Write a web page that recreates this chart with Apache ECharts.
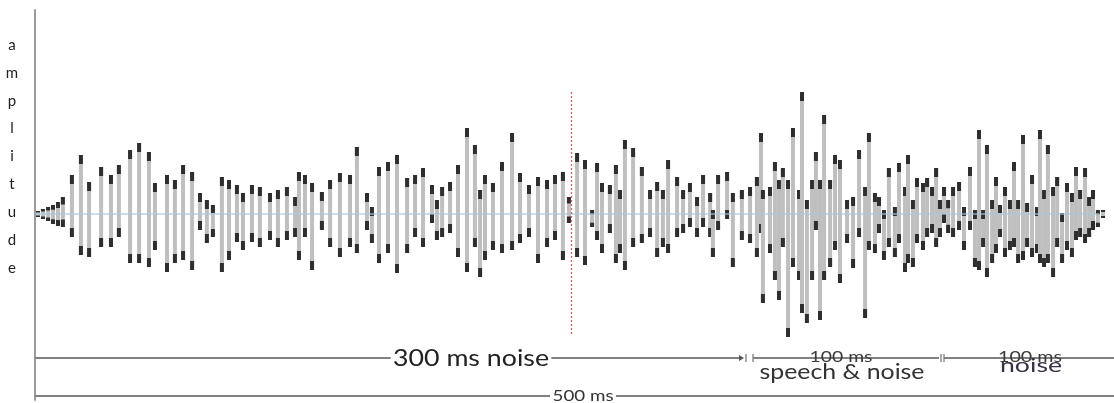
<!DOCTYPE html>
<html><head><meta charset="utf-8">
<script src="https://cdn.jsdelivr.net/npm/echarts@6/dist/echarts.min.js"></script>
<style>html,body{margin:0;padding:0;background:#fff}#c{width:1114px;height:403px}</style>
</head><body><div id="c"></div>
<script>
// sample times (ms) of each oscillation stroke
const times = [1.4,3.7,6.1,8.4,10.7,13.0,17.2,21.4,25.2,30.8,35.4,39.1,44.3,48.5,53.1,55.9,61.5,65.2,69.0,73.2,76.9,80.1,82.9,87.1,90.4,94.1,96.9,101.1,104.8,109.5,113.2,117.4,121.2,123.0,125.8,129.1,133.7,137.5,142.1,146.8,150.0,154.7,157.0,160.3,164.5,168.7,173.4,177.1,180.8,185.0,187.3,189.7,193.4,197.1,201.3,205.0,207.4,209.7,213.4,217.6,222.3,226.0,230.2,234.4,238.6,242.3,246.0,248.8,252.6,256.3,259.6,261.9,264.2,267.9,270.7,272.6,274.9,278.7,282.8,286.6,289.9,292.6,295.0,299.2,302.0,305.2,308.5,311.3,314.6,315.9,318.3,322.5,325.2,329.4,333.2,336.4,338.3,339.2,342.5,344.8,346.7,348.5,350.9,353.2,356.0,357.4,359.7,362.1,363.9,365.8,367.7,370.5,372.8,375.1,378.4,381.2,384.0,386.8,388.6,391.4,393.3,395.6,397.9,400.7,402.6,405.4,406.8,409.1,411.0,413.8,415.7,418.0,419.9,421.7,423.6,425.5,427.8,430.6,432.9,435.7,438.0,439.9,441.8,443.6,446.0,447.8,449.7,452.0,454.3,456.2,458.1,460.4,462.3,464.6,466.9,468.3,470.2,472.0,474.4,476.3,478.6,480.9,483.2,485.1,487.0,489.3,491.2,493.0,495.3,497.7];
// positive peak of each stroke
const highs = [3,5,7,9,12,17,39,59,32,47,39,49,64,71,62,31,39,34,49,42,21,14,9,37,34,29,21,29,27,21,24,27,17,42,39,31,22,34,41,39,67,21,7,47,52,59,36,39,46,29,14,27,32,49,86,69,24,39,31,52,81,41,29,37,34,39,42,17,61,54,4,51,31,29,49,24,74,66,47,24,32,24,54,37,24,31,17,39,21,4,39,42,21,24,27,37,81,24,27,52,34,46,34,86,24,122,14,34,62,34,99,34,59,54,14,17,64,27,81,21,17,4,46,7,51,27,59,14,36,31,36,27,46,14,27,14,27,32,7,47,4,84,4,69,14,37,9,27,14,52,14,79,11,39,7,84,24,69,27,37,1,31,21,47,24,46,17,24,4,4];
// negative peak of each stroke
const lows = [-3,-5,-7,-10,-12,-13,-23,-41,-43,-33,-33,-23,-49,-49,-53,-36,-58,-49,-46,-56,-16,-29,-23,-58,-46,-28,-36,-28,-33,-26,-33,-26,-23,-46,-23,-56,-16,-33,-43,-33,-39,-16,-29,-49,-39,-59,-39,-23,-33,-9,-26,-23,-19,-43,-58,-33,-63,-46,-36,-39,-36,-29,-23,-49,-33,-26,-46,-9,-43,-51,-13,-26,-39,-19,-49,-39,-56,-33,-29,-23,-43,-33,-39,-23,-19,-13,-23,-13,-23,-43,-16,-5,-53,-26,-29,-43,-19,-89,-39,-66,-86,-33,-123,-53,-66,-99,-109,-66,-16,-106,-66,-53,-36,-69,-29,-54,-23,-104,-36,-39,-19,-46,-33,-43,-29,-58,-49,-53,-29,-36,-23,-19,-33,-23,-9,-19,-23,-16,-36,-16,-53,-56,-33,-63,-49,-39,-23,-43,-36,-33,-49,-46,-33,-43,-39,-49,-53,-49,-63,-33,-49,-36,-43,-26,-23,-29,-23,-16,-13,-4];
const yLabel = 'amplitude';
const boundaryTime = 249.8; // red dotted marker (ms)

const data = times.map((t, i) => [t, lows[i], highs[i]]);
const chart = echarts.init(document.getElementById('c'));
const FONT = 'Lato, "Open Sans", sans-serif';

// horizontal stretch so a label spans the same width as in the reference
const mctx = document.createElement('canvas').getContext('2d');
function stretch(text, font, width) { mctx.font = font; return width / mctx.measureText(text).width; }
function label(text, size, cx, cy, width, fill, bg) {
  const font = size + 'px ' + FONT;
  const s = stretch(text, font, width);
  const style = { text: text, font: font, fill: fill || '#2a2a2a', align: 'center', verticalAlign: 'middle' };
  if (bg) { style.backgroundColor = '#fff'; style.padding = [0, 2]; }
  return { type: 'text', x: cx, y: cy, scaleX: s, z: 20, style: style };
}
function seg(x1, y1, x2, y2, c, w) {
  return { type: 'line', z: 10, shape: { x1: x1, y1: y1, x2: x2, y2: y2 }, style: { stroke: c, lineWidth: w } };
}

chart.setOption({
  animation: false,
  backgroundColor: '#fff',
  grid: { left: 35, right: 6, top: 10, bottom: 3 },
  xAxis: { type: 'value', min: 0, max: 500, show: false },
  yAxis: {
    type: 'value', min: -186, max: 204,
    axisLine: { show: true, lineStyle: { color: '#9a9a9a', width: 2 } },
    axisTick: { show: false }, axisLabel: { show: false }, splitLine: { show: false }
  },
  series: [{
    type: 'custom',
    data: data,
    encode: { x: 0, y: [1, 2] },
    renderItem: function (params, api) {
      const t = api.value(0), lo = api.value(1), hi = api.value(2);
      const pt = api.coord([t, hi]), pb = api.coord([t, lo]);
      const w = 4, h = Math.max(1, pb[1] - pt[1]);
      const cap = Math.min(9, h * 0.25);
      const x = pt[0] - w / 2;
      return { type: 'group', children: [
        { type: 'rect', shape: { x: x, y: pt[1], width: w, height: h }, style: { fill: '#bfbfbf' } },
        { type: 'rect', shape: { x: x, y: pt[1], width: w, height: cap }, style: { fill: '#2e2e2e' } },
        { type: 'rect', shape: { x: x, y: pb[1] - cap, width: w, height: cap }, style: { fill: '#2e2e2e' } }
      ]};
    },
    markLine: {
      silent: true, symbol: 'none', z: 10,
      label: { show: false },
      data: [
        [{ coord: [0, 0], lineStyle: { color: '#a9c9dc', width: 1.5, type: 'solid', opacity: 0.8 } }, { coord: [496, 0] }],
        [{ coord: [boundaryTime, 122], lineStyle: { color: '#e84a4a', width: 1.3, type: [2, 2], opacity: 0.9 } }, { coord: [boundaryTime, -121] }]
      ]
    }
  }],
  graphic: [
    { type: 'text', x: 12, y: 31, style: { text: yLabel.split('').join('\n'), font: '15px ' + FONT, fill: '#222', lineHeight: 27.9, align: 'center' } },
    // 300 ms / 100 ms / 100 ms bracket row
    seg(35, 358, 741, 358, '#808080', 2),
    { type: 'polygon', z: 10, shape: { points: [[739, 355], [744, 358], [739, 361]] }, style: { fill: '#555' } },
    seg(746, 354, 746, 362, '#555', 1),
    seg(753, 354, 753, 362, '#555', 1),
    seg(753, 358, 939, 358, '#808080', 2),
    seg(941, 354, 941, 362, '#555', 1),
    seg(944, 354, 944, 362, '#555', 1),
    seg(944, 358, 1114, 358, '#808080', 2),
    label('300 ms noise', 23, 471, 359, 156, '#222', true),
    label('100 ms', 15, 841, 357, 63, '#3a3a3a'),
    label('speech & noise', 22, 842, 372, 165, '#333'),
    label('100 ms', 15, 1030, 357, 64, '#3a3a3a'),
    label('noise', 20, 1031, 366, 62, '#3a3048'),
    // 500 ms row
    seg(35, 396, 1114, 396, '#808080', 2),
    label('500 ms', 15, 583, 396, 61, '#333', true)
  ]
});
</script></body></html>
